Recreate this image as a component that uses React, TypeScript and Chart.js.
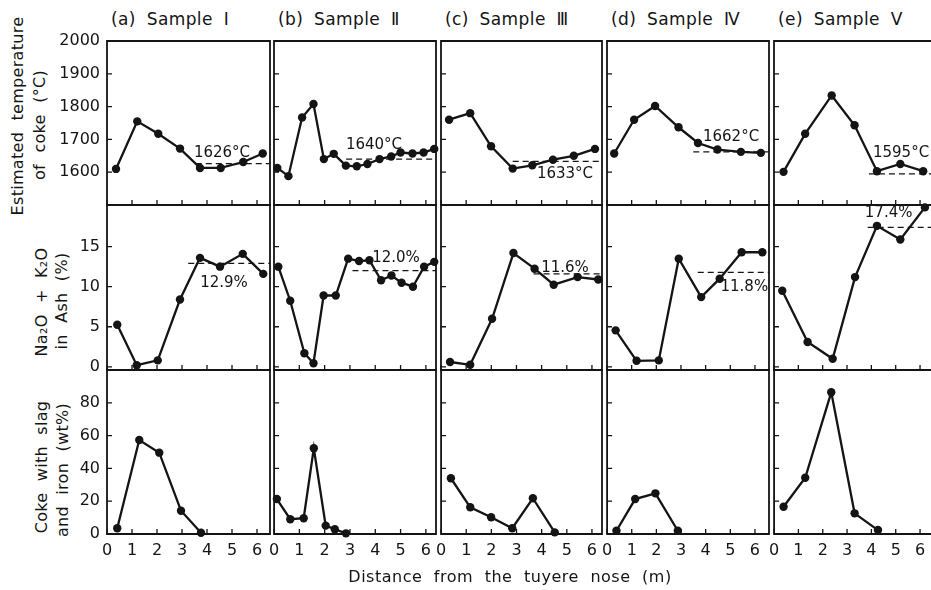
import React, { useEffect, useRef } from "react";
import { Chart, registerables } from "chart.js";

Chart.register(...registerables);

const INK = "#141414";
const FONT = "'DejaVu Sans', sans-serif";

const SAMPLES = ["(a) Sample Ⅰ", "(b) Sample Ⅱ", "(c) Sample Ⅲ", "(d) Sample Ⅳ", "(e) Sample Ⅴ"];
const X_TITLE = "Distance from the tuyere nose (m)";

// Tick values
const X_TICKS = [0, 1, 2, 3, 4, 5, 6];
const TEMP_TICKS = [1600, 1700, 1800, 1900, 2000];
const ALK_TICKS = [0, 5, 10, 15];
const SLAG_TICKS = [0, 20, 40, 60, 80];

// Estimated temperature of coke (°C)
const TEMP_X_I = [0.36, 1.21, 2.05, 2.92, 3.72, 4.55, 5.45, 6.23];
const TEMP_I = [1610, 1755, 1717, 1672, 1613, 1613, 1631, 1657];
const TEMP_X_II = [0.13, 0.57, 1.11, 1.56, 1.97, 2.36, 2.84, 3.27, 3.69, 4.17, 4.63, 5.0, 5.47, 5.91, 6.33];
const TEMP_II = [1613, 1588, 1767, 1808, 1640, 1656, 1620, 1618, 1625, 1640, 1648, 1660, 1657, 1660, 1671];
const TEMP_X_III = [0.32, 1.16, 1.99, 2.85, 3.63, 4.45, 5.28, 6.12];
const TEMP_III = [1760, 1780, 1679, 1611, 1621, 1638, 1650, 1671];
const TEMP_X_IV = [0.29, 1.1, 1.95, 2.9, 3.69, 4.48, 5.43, 6.24];
const TEMP_IV = [1657, 1760, 1802, 1737, 1689, 1669, 1662, 1659];
const TEMP_X_V = [0.39, 1.28, 2.37, 3.31, 4.23, 5.19, 6.13];
const TEMP_V = [1601, 1717, 1834, 1743, 1603, 1625, 1603];

// Na2O + K2O in ash (%)
const ALK_X_I = [0.41, 1.19, 2.03, 2.92, 3.72, 4.52, 5.43, 6.25];
const ALK_I = [5.25, 0.2, 0.8, 8.4, 13.6, 12.5, 14.1, 11.6];
const ALK_X_II = [0.17, 0.64, 1.2, 1.56, 1.96, 2.44, 2.93, 3.36, 3.77, 4.23, 4.64, 5.04, 5.49, 5.93, 6.33];
const ALK_II = [12.5, 8.25, 1.7, 0.45, 8.9, 8.9, 13.5, 13.2, 13.3, 10.8, 11.4, 10.5, 10.0, 12.5, 13.1];
const ALK_X_III = [0.36, 1.16, 2.03, 2.88, 3.72, 4.48, 5.43, 6.25];
const ALK_III = [0.6, 0.25, 6.0, 14.2, 12.25, 10.25, 11.2, 10.9];
const ALK_X_IV = [0.35, 1.2, 2.1, 2.91, 3.82, 4.57, 5.46, 6.3];
const ALK_IV = [4.55, 0.75, 0.8, 13.5, 8.7, 11.0, 14.3, 14.3];
const ALK_X_V = [0.34, 1.38, 2.41, 3.33, 4.23, 5.19, 6.2];
const ALK_V = [9.5, 3.1, 1.0, 11.2, 17.6, 15.9, 19.9];

// Coke with slag and iron (wt%)
const SLAG_X_I = [0.41, 1.29, 2.09, 2.96, 3.76];
const SLAG_I = [3.5, 57.3, 49.6, 14.2, 0.8];
const SLAG_X_II = [0.11, 0.64, 1.17, 1.57, 2.04, 2.4, 2.84];
const SLAG_II = [21.3, 9.0, 9.6, 52.3, 5.1, 2.9, 0.4];
const SLAG_X_III = [0.39, 1.16, 1.99, 2.83, 3.65, 4.52];
const SLAG_III = [34, 16.3, 10.2, 3.5, 21.8, 1.0];
const SLAG_X_IV = [0.38, 1.14, 1.96, 2.87];
const SLAG_IV = [2.0, 21.3, 24.8, 2.0];
const SLAG_X_V = [0.39, 1.28, 2.35, 3.31, 4.27];
const SLAG_V = [16.6, 34.3, 86.4, 12.6, 2.4];

// Averages over the far section of each probe
const TEMP_MEAN = [1626, 1640, 1633, 1662, 1595];
const TEMP_MEAN_FROM = [3.55, 2.85, 2.85, 3.5, 3.9];
const ALK_MEAN = [12.9, 12.0, 11.6, 11.8, 17.4];
const ALK_MEAN_FROM = [3.25, 3.1, 3.68, 3.68, 3.85];

// Where the average labels sit, in axis units
const TEMP_LABEL_AT: [number, number][] = [[4.6, 1659], [3.95, 1683], [4.93, 1594], [5.03, 1707], [5.22, 1659]];
const ALK_LABEL_AT: [number, number][] = [[4.68, 10.5], [4.82, 13.6], [4.93, 12.3], [5.57, 9.9], [4.71, 19.2]];

// Grid of panels (page pixels)
const ROWS = [
  { top: 41, bottom: 205 },
  { top: 205, bottom: 370 },
  { top: 370, bottom: 534 },
];
const COLS = [
  { left: 107, right: 270 },
  { left: 274, right: 436 },
  { left: 441, right: 602 },
  { left: 607, right: 769 },
  { left: 774, right: 940 },
];
const X_MAX = [6.52, 6.4, 6.4, 6.57, 6.82];
const ROW_Y = [
  { min: 1500, max: 2000, ticks: TEMP_TICKS },
  { min: -0.4, max: 20.2, ticks: ALK_TICKS },
  { min: 0, max: 100, ticks: SLAG_TICKS },
];
const PAD_X = 12;
const PAD_Y = 22;
const X_AXIS_H = 44;

const SERIES = [
  [[TEMP_X_I, TEMP_I], [TEMP_X_II, TEMP_II], [TEMP_X_III, TEMP_III], [TEMP_X_IV, TEMP_IV], [TEMP_X_V, TEMP_V]],
  [[ALK_X_I, ALK_I], [ALK_X_II, ALK_II], [ALK_X_III, ALK_III], [ALK_X_IV, ALK_IV], [ALK_X_V, ALK_V]],
  [[SLAG_X_I, SLAG_I], [SLAG_X_II, SLAG_II], [SLAG_X_III, SLAG_III], [SLAG_X_IV, SLAG_IV], [SLAG_X_V, SLAG_V]],
];

type MeanLine = { value: number; from: number; label: string; at: [number, number] } | null;

function meanFor(row: number, col: number): MeanLine {
  if (row === 0) {
    return { value: TEMP_MEAN[col], from: TEMP_MEAN_FROM[col], label: `${TEMP_MEAN[col]}°C`, at: TEMP_LABEL_AT[col] };
  }
  if (row === 1) {
    return { value: ALK_MEAN[col], from: ALK_MEAN_FROM[col], label: `${ALK_MEAN[col].toFixed(1)}%`, at: ALK_LABEL_AT[col] };
  }
  return null;
}

// Frame around each panel with short inward tick marks
const framePlugin = {
  id: "panelFrame",
  afterDraw(chart: any, _args: any, opts: any) {
    const { ctx, chartArea, scales } = chart;
    const { left, right, top, bottom } = chartArea;
    ctx.save();
    ctx.strokeStyle = INK;
    ctx.lineWidth = 1.8;
    ctx.beginPath();
    ctx.moveTo(left, top);
    ctx.lineTo(right, top);
    ctx.lineTo(right, bottom);
    ctx.lineTo(left, bottom);
    ctx.closePath();
    ctx.stroke();
    ctx.lineWidth = 1.3;
    ctx.beginPath();
    for (const v of opts.xTicks) {
      const px = scales.x.getPixelForValue(v);
      ctx.moveTo(px, bottom);
      ctx.lineTo(px, bottom - 5);
    }
    for (const v of opts.yTicks) {
      const py = scales.y.getPixelForValue(v);
      ctx.moveTo(left, py);
      ctx.lineTo(left + 5, py);
    }
    ctx.stroke();
    ctx.restore();
  },
};

// Text labels placed in axis units
const labelPlugin = {
  id: "panelLabels",
  afterDraw(chart: any, _args: any, opts: any) {
    const { ctx, scales } = chart;
    ctx.save();
    ctx.fillStyle = INK;
    ctx.font = `15px ${FONT}`;
    ctx.textAlign = "center";
    ctx.textBaseline = "middle";
    for (const item of opts.items) {
      ctx.fillText(item.text, scales.x.getPixelForValue(item.x), scales.y.getPixelForValue(item.y));
    }
    ctx.restore();
  },
};

function Panel({ row, col }: { row: number; col: number }) {
  const ref = useRef<HTMLCanvasElement>(null);
  const R = ROWS[row];
  const C = COLS[col];
  const showY = col === 0;
  const showX = row === 2;
  const canvasLeft = showY ? 0 : C.left - PAD_X;
  const canvasTop = R.top - PAD_Y;
  const width = C.right + PAD_X - canvasLeft;
  const height = PAD_Y + (R.bottom - R.top) + (showX ? X_AXIS_H : PAD_Y);

  useEffect(() => {
    const [xs, ys] = SERIES[row][col];
    const mean = meanFor(row, col);
    const datasets: any[] = [
      {
        data: xs.map((x, i) => ({ x, y: ys[i] })),
        borderColor: INK,
        backgroundColor: INK,
        pointBackgroundColor: INK,
        borderWidth: 2.3,
        pointRadius: 4.2,
        pointBorderWidth: 0,
        tension: 0,
        clip: false,
      },
    ];
    if (mean) {
      datasets.push({
        data: [
          { x: mean.from, y: mean.value },
          { x: X_MAX[col], y: mean.value },
        ],
        borderColor: INK,
        borderWidth: 1.3,
        borderDash: [6, 4],
        pointRadius: 0,
        clip: false,
      });
    }
    const yCfg = ROW_Y[row];
    const tickFont = { family: FONT, size: 16 };
    const chart = new Chart(ref.current as HTMLCanvasElement, {
      type: "line",
      data: { datasets },
      options: {
        responsive: false,
        maintainAspectRatio: false,
        animation: false,
        devicePixelRatio: 1,
        layout: {
          padding: { left: showY ? 0 : PAD_X, right: PAD_X, top: PAD_Y, bottom: showX ? 0 : PAD_Y },
        },
        plugins: {
          legend: { display: false },
          tooltip: { enabled: false },
          panelFrame: { xTicks: X_TICKS, yTicks: yCfg.ticks },
          panelLabels: { items: mean ? [{ text: mean.label, x: mean.at[0], y: mean.at[1] }] : [] },
        } as any,
        scales: {
          x: {
            type: "linear",
            min: 0,
            max: X_MAX[col],
            display: showX,
            grid: { display: false, drawTicks: false },
            border: { display: false },
            afterBuildTicks: (s: any) => {
              s.ticks = X_TICKS.map((value) => ({ value }));
            },
            afterFit: (s: any) => {
              if (showX) s.height = X_AXIS_H;
            },
            ticks: {
              color: INK,
              font: tickFont,
              padding: 7,
              maxRotation: 0,
              autoSkip: false,
              callback: (v: any) => String(v),
            },
          },
          y: {
            type: "linear",
            min: yCfg.min,
            max: yCfg.max,
            display: showY,
            grid: { display: false, drawTicks: false },
            border: { display: false },
            afterBuildTicks: (s: any) => {
              s.ticks = yCfg.ticks.map((value) => ({ value }));
            },
            afterFit: (s: any) => {
              if (showY) s.width = C.left;
            },
            ticks: {
              color: INK,
              font: tickFont,
              padding: 7,
              autoSkip: false,
              callback: (v: any) => String(v),
            },
          },
        },
      },
      plugins: [framePlugin, labelPlugin],
    });
    return () => chart.destroy();
  }, []);

  return (
    <canvas
      ref={ref}
      width={width}
      height={height}
      style={{ position: "absolute", left: canvasLeft, top: canvasTop, width, height }}
    />
  );
}

function VText({ text, x, y }: { text: string; x: number; y: number }) {
  return (
    <div
      style={{
        position: "absolute",
        left: x,
        top: y,
        transform: "translate(-50%, -50%) rotate(-90deg)",
        whiteSpace: "nowrap",
        fontSize: 16,
        wordSpacing: 6,
        letterSpacing: 0.3,
        lineHeight: "18px",
        color: INK,
      }}
    >
      {text}
    </div>
  );
}

export default function App() {
  const panels: JSX.Element[] = [];
  for (let r = 0; r < 3; r++) {
    for (let c = 0; c < 5; c++) {
      panels.push(<Panel key={`${r}-${c}`} row={r} col={c} />);
    }
  }
  return (
    <div
      style={{
        position: "absolute",
        left: 0,
        top: 0,
        width: 931,
        height: 590,
        overflow: "hidden",
        background: "#fff",
        fontFamily: FONT,
        color: INK,
      }}
    >
      {SAMPLES.map((s, i) => (
        <div
          key={s}
          style={{
            position: "absolute",
            left: COLS[i].left + 4,
            top: 19,
            transform: "translateY(-50%)",
            fontSize: 17,
            wordSpacing: 5,
            letterSpacing: 0.4,
            whiteSpace: "nowrap",
            lineHeight: "20px",
          }}
        >
          {s}
        </div>
      ))}
      <VText text="Estimated temperature" x={18} y={116} />
      <VText text="of coke (°C)" x={40} y={125} />
      <VText text="Na₂O + K₂O" x={42} y={302} />
      <VText text="in Ash (%)" x={62} y={301} />
      <VText text="Coke with slag" x={42} y={467} />
      <VText text="and iron (wt%)" x={63} y={470} />
      {panels}
      <div
        style={{
          position: "absolute",
          left: 510,
          top: 577,
          transform: "translate(-50%, -50%)",
          fontSize: 16,
          wordSpacing: 6,
          letterSpacing: 0.5,
          whiteSpace: "nowrap",
          lineHeight: "18px",
        }}
      >
        {X_TITLE}
      </div>
    </div>
  );
}
